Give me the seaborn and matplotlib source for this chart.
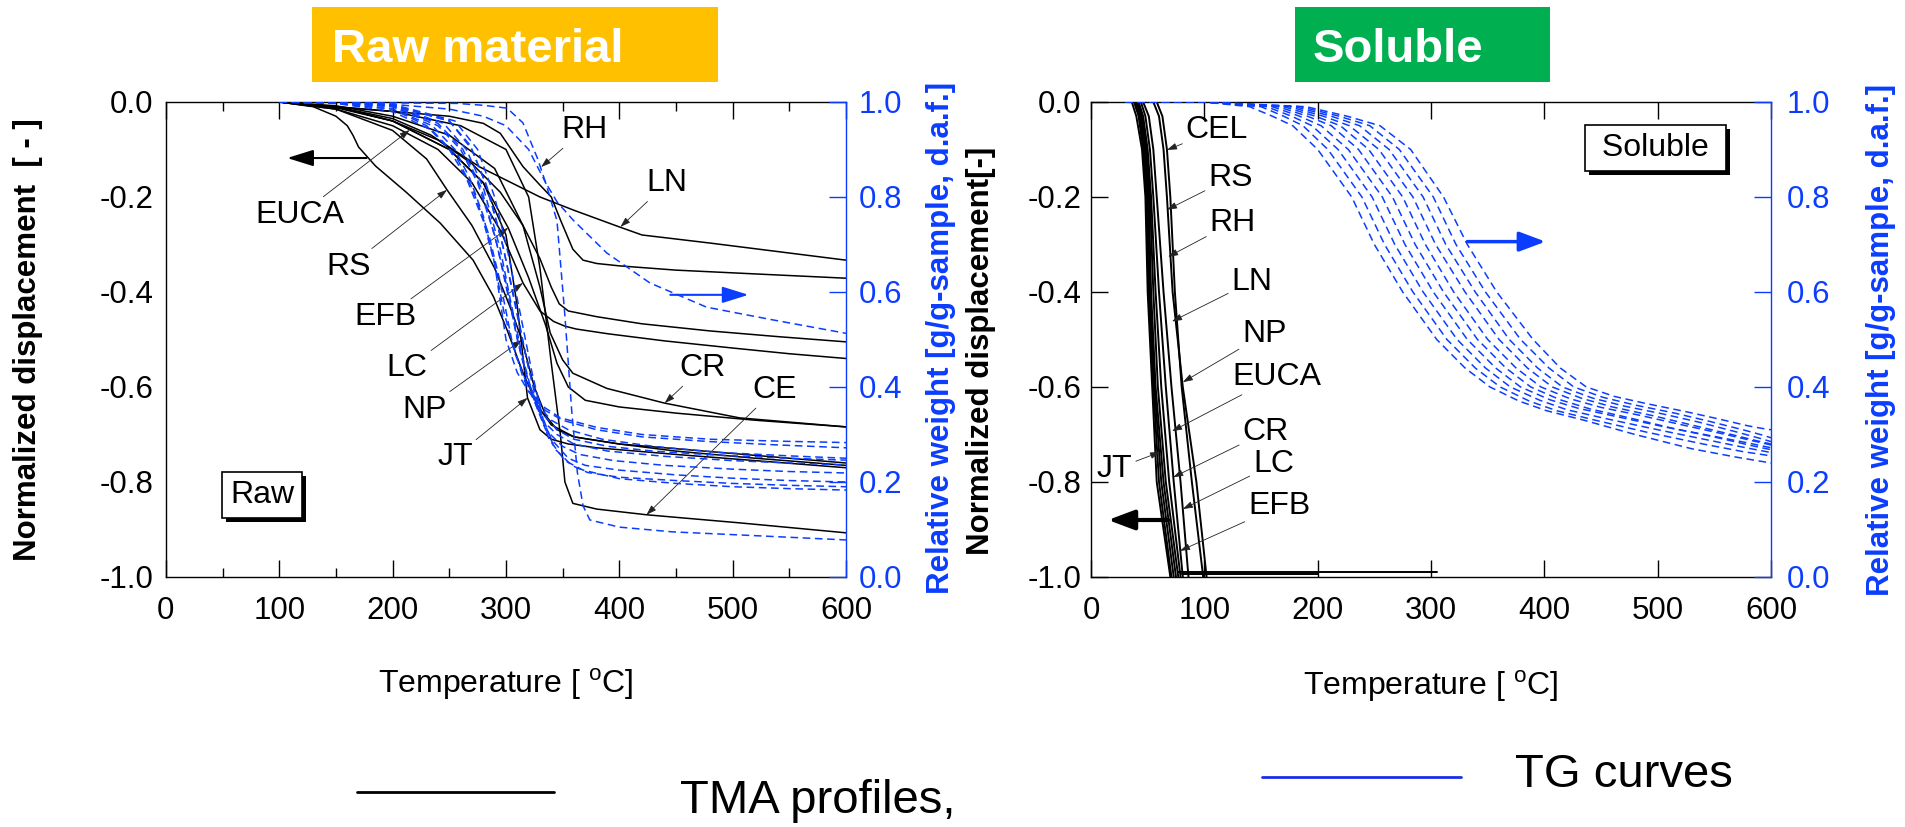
import pandas as pd
import matplotlib
matplotlib.use("Agg")
import matplotlib.pyplot as plt
import seaborn as sns
import matplotlib.patheffects as pe
from matplotlib.lines import Line2D
from matplotlib.patches import Rectangle
from matplotlib.ticker import MultipleLocator, FuncFormatter

# ---------------- Raw material : TMA profiles (temperature, normalized displacement)
raw_ln_t = [100, 150, 200, 234, 277, 330, 360, 400, 420, 480, 540, 600]
raw_ln_d = [0, -0.01, -0.035, -0.07, -0.137, -0.2, -0.228, -0.263, -0.28, -0.297, -0.315, -0.333]
raw_rh_t = [100, 150, 200, 250, 280, 295, 315, 330, 340, 348, 359, 368, 380, 400, 450, 520, 600]
raw_rh_d = [0, -0.01, -0.02, -0.03, -0.045, -0.066, -0.136, -0.175, -0.2, -0.248, -0.31, -0.333, -0.34, -0.345, -0.354, -0.362, -0.371]
raw_rs_t = [100, 150, 200, 240, 270, 295, 315, 330, 340, 347, 355, 380, 420, 480, 540, 600]
raw_rs_d = [0, -0.012, -0.04, -0.08, -0.13, -0.19, -0.26, -0.33, -0.39, -0.425, -0.44, -0.452, -0.467, -0.482, -0.494, -0.505]
raw_lc_t = [100, 150, 200, 240, 270, 295, 315, 330, 342, 352, 362, 390, 440, 500, 550, 600]
raw_lc_d = [0, -0.015, -0.05, -0.1, -0.17, -0.27, -0.381, -0.44, -0.462, -0.472, -0.478, -0.488, -0.503, -0.518, -0.53, -0.54]
raw_cr_t = [100, 150, 200, 250, 290, 315, 330, 339, 350, 359, 389, 440, 506, 600]
raw_cr_d = [0, -0.008, -0.03, -0.07, -0.14, -0.26, -0.39, -0.486, -0.543, -0.571, -0.603, -0.634, -0.665, -0.684]
raw_efb_t = [100, 150, 200, 250, 280, 302, 320, 335, 345, 355, 370, 400, 450, 520, 600]
raw_efb_d = [0, -0.01, -0.04, -0.1, -0.17, -0.265, -0.37, -0.47, -0.55, -0.6, -0.628, -0.642, -0.655, -0.67, -0.684]
raw_euca_t = [100, 130, 150, 160, 165, 170, 185, 212, 242, 271, 289, 301, 315, 328, 340, 360, 400, 450, 500, 550, 600]
raw_euca_d = [0, -0.01, -0.03, -0.05, -0.07, -0.095, -0.135, -0.19, -0.255, -0.333, -0.41, -0.48, -0.57, -0.64, -0.68, -0.705, -0.72, -0.73, -0.74, -0.75, -0.76]
raw_np_t = [100, 150, 200, 230, 248, 270, 290, 305, 314, 325, 335, 345, 360, 400, 450, 520, 600]
raw_np_d = [0, -0.015, -0.06, -0.12, -0.185, -0.26, -0.35, -0.44, -0.501, -0.6, -0.66, -0.69, -0.705, -0.72, -0.735, -0.75, -0.765]
raw_jt_t = [100, 150, 200, 250, 280, 300, 310, 319, 330, 340, 355, 380, 450, 520, 600]
raw_jt_d = [0, -0.01, -0.04, -0.1, -0.17, -0.28, -0.43, -0.623, -0.69, -0.71, -0.72, -0.728, -0.742, -0.755, -0.77]
raw_ce_t = [100, 200, 260, 300, 320, 330, 340, 348, 352, 359, 380, 424, 506, 600]
raw_ce_d = [0, -0.02, -0.05, -0.1, -0.2, -0.35, -0.55, -0.7, -0.8, -0.845, -0.857, -0.869, -0.886, -0.907]

# ---------------- Raw material : TG curves (temperature, relative weight)
rtg_ln_t = [100, 200, 257, 280, 301, 315, 328, 335, 345, 359, 389, 427, 477, 536, 600]
rtg_ln_w = [1.0, 0.998, 0.997, 0.993, 0.987, 0.956, 0.88, 0.83, 0.79, 0.752, 0.682, 0.619, 0.568, 0.541, 0.513]
rtg_ce_t = [100, 200, 250, 280, 300, 320, 335, 345, 352, 358, 363, 368, 374, 400, 447, 520, 600]
rtg_ce_w = [1.0, 0.995, 0.985, 0.97, 0.95, 0.9, 0.83, 0.75, 0.55, 0.35, 0.22, 0.15, 0.12, 0.105, 0.095, 0.087, 0.078]
rtg_a_t = [100, 150, 200, 230, 250, 265, 280, 290, 300, 310, 320, 335, 350, 380, 420, 480, 540, 600]
rtg_a_w = [1.0, 0.998, 0.985, 0.95, 0.9, 0.84, 0.75, 0.66, 0.5, 0.43, 0.39, 0.35, 0.33, 0.31, 0.295, 0.285, 0.278, 0.272]
rtg_b_t = [100, 150, 200, 235, 255, 270, 285, 295, 305, 315, 325, 340, 355, 385, 430, 490, 550, 600]
rtg_b_w = [1.0, 0.997, 0.98, 0.94, 0.89, 0.82, 0.72, 0.62, 0.5, 0.42, 0.37, 0.33, 0.31, 0.29, 0.275, 0.262, 0.255, 0.25]
rtg_c_t = [100, 150, 200, 240, 260, 275, 290, 300, 310, 320, 330, 345, 360, 390, 430, 490, 550, 600]
rtg_c_w = [1.0, 0.998, 0.99, 0.95, 0.9, 0.83, 0.72, 0.62, 0.5, 0.41, 0.35, 0.31, 0.29, 0.275, 0.265, 0.256, 0.25, 0.246]
rtg_d_t = [100, 150, 200, 240, 262, 278, 292, 303, 313, 322, 332, 345, 360, 390, 440, 500, 550, 600]
rtg_d_w = [1.0, 0.998, 0.99, 0.955, 0.9, 0.82, 0.7, 0.58, 0.47, 0.39, 0.33, 0.3, 0.28, 0.265, 0.254, 0.245, 0.24, 0.236]
rtg_e_t = [100, 150, 200, 245, 265, 280, 295, 305, 315, 325, 335, 350, 365, 395, 440, 500, 550, 600]
rtg_e_w = [1.0, 0.999, 0.992, 0.955, 0.9, 0.82, 0.69, 0.57, 0.46, 0.37, 0.31, 0.275, 0.258, 0.245, 0.235, 0.227, 0.222, 0.219]
rtg_f_t = [100, 150, 200, 250, 270, 285, 298, 310, 320, 330, 340, 355, 370, 400, 450, 500, 550, 600]
rtg_f_w = [1.0, 0.999, 0.993, 0.96, 0.9, 0.81, 0.69, 0.55, 0.44, 0.35, 0.29, 0.25, 0.235, 0.225, 0.215, 0.208, 0.203, 0.2]
rtg_g_t = [100, 150, 200, 255, 275, 290, 302, 313, 323, 333, 343, 358, 372, 400, 450, 500, 550, 600]
rtg_g_w = [1.0, 0.999, 0.995, 0.96, 0.9, 0.8, 0.68, 0.55, 0.43, 0.33, 0.27, 0.235, 0.22, 0.21, 0.203, 0.197, 0.193, 0.19]
rtg_h_t = [100, 150, 200, 250, 268, 282, 296, 308, 318, 328, 338, 352, 368, 400, 450, 500, 550, 600]
rtg_h_w = [1.0, 0.999, 0.993, 0.96, 0.91, 0.83, 0.71, 0.58, 0.46, 0.36, 0.29, 0.245, 0.225, 0.207, 0.197, 0.19, 0.186, 0.183]
rtg_i_t = [100, 150, 200, 235, 255, 268, 280, 290, 298, 308, 318, 332, 348, 380, 420, 480, 540, 600]
rtg_i_w = [1.0, 0.997, 0.985, 0.95, 0.9, 0.84, 0.76, 0.66, 0.56, 0.47, 0.41, 0.36, 0.335, 0.315, 0.3, 0.29, 0.286, 0.283]

# ---------------- Soluble : TMA profiles (temperature at fixed displacement levels)
sol_levels = [0, -0.03, -0.1, -0.2, -0.4, -0.6, -0.8, -1.0]
sol_jt_t = [36, 40, 45, 48, 50, 54, 58, 70]
sol_efb_t = [38, 42, 46, 49, 51, 55, 60, 71]
sol_lc_t = [39, 43, 47, 50, 52, 56, 62, 73]
sol_cr_t = [40, 44, 48, 51, 53, 57, 64, 75]
sol_euca_t = [41, 45, 49, 52, 55, 59, 66, 77]
sol_ln_t = [42, 46, 50, 53, 57, 62, 69, 79]
sol_rh_t = [44, 48, 52, 55, 60, 66, 73, 81]
sol_rs_t = [46, 51, 55, 58, 64, 71, 79, 86]
sol_np_t = [55, 60, 64, 67, 72, 81, 93, 102]
sol_cel_t = [58, 63, 67, 70, 74, 80, 89, 99]
# residue plateau after softening
sol_tail1_t = [77, 160, 305]
sol_tail1_d = [-0.99, -0.99, -0.99]
sol_tail2_t = [80, 140, 200]
sol_tail2_d = [-0.993, -0.993, -0.993]

# ---------------- Soluble : TG curves (temperature, relative weight)
stg_1_t = [30, 100, 140, 160, 178, 200, 230, 250, 275, 305, 330, 352, 378, 402, 435, 480, 530, 570, 600]
stg_1_w = [1.0, 1.0, 0.99, 0.97, 0.95, 0.9, 0.8, 0.7, 0.6, 0.5, 0.44, 0.4, 0.37, 0.35, 0.33, 0.3, 0.27, 0.252, 0.24]
stg_2_t = [30, 100, 150, 170, 187, 209, 239, 259, 284, 314, 339, 361, 387, 411, 445, 490, 540, 575, 600]
stg_2_w = [1.0, 1.0, 0.99, 0.97, 0.95, 0.9, 0.8, 0.7, 0.6, 0.5, 0.44, 0.4, 0.37, 0.35, 0.33, 0.305, 0.28, 0.264, 0.255]
stg_3_t = [30, 100, 155, 177, 195, 218, 248, 268, 293, 323, 348, 370, 396, 420, 455, 500, 545, 578, 600]
stg_3_w = [1.0, 1.0, 0.99, 0.97, 0.95, 0.9, 0.8, 0.7, 0.6, 0.5, 0.44, 0.4, 0.372, 0.352, 0.333, 0.31, 0.288, 0.272, 0.262]
stg_4_t = [30, 100, 160, 184, 203, 227, 257, 277, 302, 332, 357, 379, 405, 430, 465, 508, 550, 580, 600]
stg_4_w = [1.0, 1.0, 0.99, 0.97, 0.95, 0.9, 0.8, 0.7, 0.6, 0.5, 0.44, 0.4, 0.373, 0.355, 0.337, 0.315, 0.296, 0.282, 0.272]
stg_5_t = [30, 100, 165, 191, 212, 236, 266, 286, 311, 341, 366, 388, 414, 440, 475, 515, 555, 582, 600]
stg_5_w = [1.0, 1.0, 0.99, 0.97, 0.95, 0.9, 0.8, 0.7, 0.6, 0.5, 0.44, 0.4, 0.373, 0.354, 0.335, 0.312, 0.292, 0.277, 0.268]
stg_6_t = [30, 100, 170, 198, 220, 245, 275, 295, 320, 350, 375, 397, 423, 450, 485, 522, 560, 585, 600]
stg_6_w = [1.0, 1.0, 0.99, 0.97, 0.95, 0.9, 0.8, 0.7, 0.6, 0.5, 0.44, 0.4, 0.375, 0.357, 0.34, 0.32, 0.3, 0.286, 0.278]
stg_7_t = [30, 100, 175, 205, 228, 254, 284, 304, 330, 360, 385, 407, 433, 460, 495, 530, 565, 587, 600]
stg_7_w = [1.0, 1.0, 0.99, 0.97, 0.95, 0.9, 0.8, 0.7, 0.6, 0.5, 0.44, 0.4, 0.376, 0.358, 0.34, 0.32, 0.3, 0.287, 0.28]
stg_8_t = [30, 100, 180, 212, 237, 263, 293, 313, 339, 369, 394, 416, 442, 470, 505, 538, 570, 590, 600]
stg_8_w = [1.0, 1.0, 0.99, 0.97, 0.95, 0.9, 0.8, 0.7, 0.6, 0.5, 0.44, 0.4, 0.377, 0.36, 0.343, 0.325, 0.305, 0.292, 0.285]
stg_9_t = [30, 100, 185, 219, 246, 272, 302, 322, 348, 379, 404, 426, 452, 480, 515, 545, 575, 592, 600]
stg_9_w = [1.0, 1.0, 0.99, 0.97, 0.95, 0.9, 0.8, 0.7, 0.6, 0.5, 0.44, 0.4, 0.378, 0.362, 0.345, 0.328, 0.31, 0.299, 0.293]
stg_10_t = [30, 100, 190, 226, 255, 282, 311, 332, 358, 390, 414, 437, 462, 490, 525, 555, 580, 594, 600]
stg_10_w = [1.0, 1.0, 0.99, 0.97, 0.95, 0.9, 0.8, 0.7, 0.6, 0.5, 0.44, 0.4, 0.38, 0.365, 0.348, 0.332, 0.318, 0.312, 0.31]

# ---------------- labels : (name, text position, arrow tip) in data units
raw_labels = [("EUCA", (118, -0.238), (215, -0.059)), ("RS", (161, -0.347), (248, -0.185)),
              ("EFB", (194, -0.453), (302, -0.265)), ("LC", (213, -0.56), (315, -0.381)),
              ("NP", (228, -0.648), (314, -0.501)), ("JT", (255, -0.747), (319, -0.623)),
              ("RH", (369, -0.059), (331, -0.137)), ("LN", (442, -0.171), (401, -0.263)),
              ("CR", (473, -0.56), (440, -0.634)), ("CE", (537, -0.606), (424, -0.869))]
sol_labels = [("CEL", (111, -0.059), (67, -0.101)), ("RS", (123, -0.16), (67, -0.227)),
              ("RH", (125, -0.254), (68, -0.326)), ("LN", (142, -0.378), (71.5, -0.462)),
              ("NP", (153, -0.489), (81, -0.59)), ("EUCA", (164, -0.578), (71.5, -0.693)),
              ("CR", (154, -0.695), (72.5, -0.79)), ("LC", (161, -0.763), (81, -0.857)),
              ("EFB", (166, -0.851), (78.5, -0.945)), ("JT", (21, -0.773), (61, -0.737))]

BLUE = "#0b3dff"


def long_frame(curves, col):
    rows = []
    for name, xs, ys in curves:
        rows += [(name, x, y) for x, y in zip(xs, ys)]
    return pd.DataFrame(rows, columns=["sample", "T", col])


raw_tma = long_frame([("LN", raw_ln_t, raw_ln_d), ("RH", raw_rh_t, raw_rh_d), ("RS", raw_rs_t, raw_rs_d),
                      ("LC", raw_lc_t, raw_lc_d), ("CR", raw_cr_t, raw_cr_d), ("EFB", raw_efb_t, raw_efb_d),
                      ("EUCA", raw_euca_t, raw_euca_d), ("NP", raw_np_t, raw_np_d), ("JT", raw_jt_t, raw_jt_d),
                      ("CE", raw_ce_t, raw_ce_d)], "disp")
raw_tg = long_frame([("LN", rtg_ln_t, rtg_ln_w), ("CE", rtg_ce_t, rtg_ce_w), ("a", rtg_a_t, rtg_a_w),
                     ("b", rtg_b_t, rtg_b_w), ("c", rtg_c_t, rtg_c_w), ("d", rtg_d_t, rtg_d_w),
                     ("e", rtg_e_t, rtg_e_w), ("f", rtg_f_t, rtg_f_w), ("g", rtg_g_t, rtg_g_w),
                     ("h", rtg_h_t, rtg_h_w), ("i", rtg_i_t, rtg_i_w)], "w")
sol_tma = long_frame([(n, t, sol_levels) for n, t in
                      [("JT", sol_jt_t), ("EFB", sol_efb_t), ("LC", sol_lc_t), ("CR", sol_cr_t),
                       ("EUCA", sol_euca_t), ("LN", sol_ln_t), ("RH", sol_rh_t), ("RS", sol_rs_t),
                       ("NP", sol_np_t), ("CEL", sol_cel_t)]]
                     + [("tail1", sol_tail1_t, sol_tail1_d), ("tail2", sol_tail2_t, sol_tail2_d)], "disp")
sol_tg = long_frame([(str(k), t, w) for k, (t, w) in enumerate(
    [(stg_1_t, stg_1_w), (stg_2_t, stg_2_w), (stg_3_t, stg_3_w), (stg_4_t, stg_4_w), (stg_5_t, stg_5_w),
     (stg_6_t, stg_6_w), (stg_7_t, stg_7_w), (stg_8_t, stg_8_w), (stg_9_t, stg_9_w), (stg_10_t, stg_10_w)])], "w")

sns.set_style("ticks", {"axes.edgecolor": "black", "xtick.color": "black", "ytick.color": "black",
                        "text.color": "black", "axes.labelcolor": "black"})
plt.rcParams["font.family"] = ["Liberation Sans", "DejaVu Sans"]
plt.rcParams["mathtext.fontset"] = "custom"
plt.rcParams["mathtext.rm"] = "Liberation Sans"
plt.rcParams["axes.unicode_minus"] = False

fig = plt.figure(figsize=(19.05, 8.27), dpi=100)
ax_raw = fig.add_axes([0.0871, 0.3023, 0.357, 0.5744])
ax_sol = fig.add_axes([0.5727, 0.3023, 0.357, 0.5744])

fmt = FuncFormatter(lambda v, _: ("%.1f" % v).replace("-0.0", "0.0"))
arrow_thin = dict(arrowstyle="-|>,head_length=0.6,head_width=0.2", color="#222222", lw=0.6,
                  shrinkA=0, shrinkB=0, mutation_scale=10)


def setup(ax, minor):
    ax.set_xlim(0, 600)
    ax.set_ylim(-1.0, 0.0)
    ax.xaxis.set_major_locator(MultipleLocator(100))
    if minor:
        ax.xaxis.set_minor_locator(MultipleLocator(50))
    ax.yaxis.set_major_locator(MultipleLocator(0.2))
    ax.yaxis.set_major_formatter(fmt)
    ax.tick_params(axis="x", which="both", direction="in", top=True, bottom=True, labelsize=22.5, pad=14)
    ax.tick_params(axis="x", which="major", length=12, width=1)
    ax.tick_params(axis="x", which="minor", length=6.5, width=1)
    for s in ax.spines.values():
        s.set_linewidth(1.0)
    ax.spines["right"].set_visible(False)
    ax2 = ax.twinx()
    ax2.set_ylim(0, 1.0)
    ax2.yaxis.set_major_locator(MultipleLocator(0.2))
    ax2.yaxis.set_major_formatter(fmt)
    for k in ["left", "top", "bottom"]:
        ax2.spines[k].set_visible(False)
    ax2.spines["right"].set_color(BLUE)
    ax2.spines["right"].set_linewidth(1.0)
    ax2.tick_params(axis="y", direction="in", length=12, width=1, color=BLUE, labelcolor=BLUE,
                    labelsize=22.5)
    ax2.set_ylabel("Relative weight [g/g-sample, d.a.f.]", color=BLUE, fontsize=22.5, fontweight="bold")
    ax2.yaxis.label.set_verticalalignment("center")
    ax.set_xlabel(r"Temperature [ $^{\mathregular{o}}$C]", fontsize=23)
    ax.xaxis.label.set_verticalalignment("baseline")
    return ax2


# ---------- left panel: raw material
tw_raw = setup(ax_raw, True)
ax_raw.tick_params(axis="y", length=0, labelsize=22.5, pad=9)
tw_raw.tick_params(axis="y", pad=9)
sns.lineplot(data=raw_tma, x="T", y="disp", units="sample", estimator=None, sort=False,
             color="black", lw=1.1, ax=ax_raw)
sns.lineplot(data=raw_tg, x="T", y="w", units="sample", estimator=None, sort=False,
             color=BLUE, lw=1.1, linestyle=(0, (5, 3)), ax=tw_raw)
ax_raw.set_ylabel("Normalized displacement  [ - ]", fontsize=22.5, fontweight="bold")
ax_raw.yaxis.label.set_verticalalignment("center")
ax_raw.yaxis.set_label_coords(-0.203, 0.5)
tw_raw.yaxis.set_label_coords(1.140, 0.504)
ax_raw.set_xlabel(r"Temperature [ $^{\mathregular{o}}$C]", fontsize=23)
ax_raw.xaxis.set_label_coords(0.5, -0.244)
for name, txt, tip in raw_labels:
    ax_raw.annotate(name, xy=tip, xytext=txt, ha="center", va="center", fontsize=23, arrowprops=arrow_thin)
ax_raw.annotate("", xy=(107, -0.118), xytext=(177, -0.118),
                arrowprops=dict(arrowstyle="-|>,head_length=0.8,head_width=0.25", color="black", lw=1.5,
                                shrinkA=0, shrinkB=0, mutation_scale=20))
tw_raw.annotate("", xy=(514, 0.594), xytext=(445, 0.594),
                arrowprops=dict(arrowstyle="-|>,head_length=0.8,head_width=0.25", color=BLUE, lw=1.5,
                                shrinkA=0, shrinkB=0, mutation_scale=20))
t = ax_raw.text(85, -0.827, "Raw", ha="center", va="center", fontsize=23,
                bbox=dict(boxstyle="square,pad=0.25", fc="white", ec="black", lw=1.2))
t.get_bbox_patch().set_path_effects([pe.withSimplePatchShadow(offset=(3, -3), shadow_rgbFace="black", alpha=1)])

# ---------- right panel: soluble
tw_sol = setup(ax_sol, False)
ax_sol.tick_params(axis="y", direction="in", length=12, width=1, labelsize=22.5, pad=7)
tw_sol.tick_params(axis="y", pad=11)
sns.lineplot(data=sol_tma, x="T", y="disp", units="sample", estimator=None, sort=False,
             color="black", lw=1.4, ax=ax_sol)
sns.lineplot(data=sol_tg, x="T", y="w", units="sample", estimator=None, sort=False,
             color=BLUE, lw=1.1, linestyle=(0, (5, 3)), ax=tw_sol)
ax_sol.set_ylabel("Normalized displacement[-]", fontsize=22.5, fontweight="bold")
ax_sol.yaxis.label.set_verticalalignment("center")
ax_sol.yaxis.set_label_coords(-0.162, 0.477)
tw_sol.yaxis.set_label_coords(1.162, 0.498)
ax_sol.xaxis.set_label_coords(0.5, -0.248)
for name, txt, tip in sol_labels:
    ax_sol.annotate(name, xy=tip, xytext=txt, ha="center", va="center", fontsize=23, arrowprops=arrow_thin)
ax_sol.annotate("", xy=(15, -0.88), xytext=(68, -0.88),
                arrowprops=dict(arrowstyle="-|>,head_length=0.8,head_width=0.3", color="black", lw=3,
                                shrinkA=0, shrinkB=0, mutation_scale=20))
tw_sol.annotate("", xy=(401, 0.706), xytext=(332, 0.706),
                arrowprops=dict(arrowstyle="-|>,head_length=0.8,head_width=0.3", color=BLUE, lw=2.5,
                                shrinkA=0, shrinkB=0, mutation_scale=20))
t = ax_sol.text(498, -0.097, " Soluble ", ha="center", va="center", fontsize=23,
                bbox=dict(boxstyle="square,pad=0.25", fc="white", ec="black", lw=1.2))
t.get_bbox_patch().set_path_effects([pe.withSimplePatchShadow(offset=(3, -3), shadow_rgbFace="black", alpha=1)])

# ---------- coloured title boxes
fig.patches.append(Rectangle((0.1638, 0.9008), 0.2131, 0.0907, transform=fig.transFigure,
                             fc="#FFC000", ec="none", zorder=0))
fig.text(0.1743, 0.925, "Raw material", color="white", fontsize=34, fontweight="bold", va="baseline")
fig.patches.append(Rectangle((0.6798, 0.9008), 0.1339, 0.0907, transform=fig.transFigure,
                             fc="#00B050", ec="none", zorder=0))
fig.text(0.6893, 0.925, "Soluble", color="white", fontsize=34, fontweight="bold", va="baseline")

# ---------- bottom key
fig.add_artist(Line2D([357 / 1905, 554 / 1905], [1 - 792 / 827] * 2, color="black", lw=2))
fig.text(680 / 1905, 1 - 813 / 827, "TMA profiles,", fontsize=34, va="baseline")
fig.add_artist(Line2D([1262 / 1905, 1461 / 1905], [1 - 777 / 827] * 2, color="#1a2ee8", lw=2))
fig.text(1515 / 1905, 1 - 787 / 827, "TG curves", fontsize=34, va="baseline")

fig.savefig("out.png", dpi=100)
